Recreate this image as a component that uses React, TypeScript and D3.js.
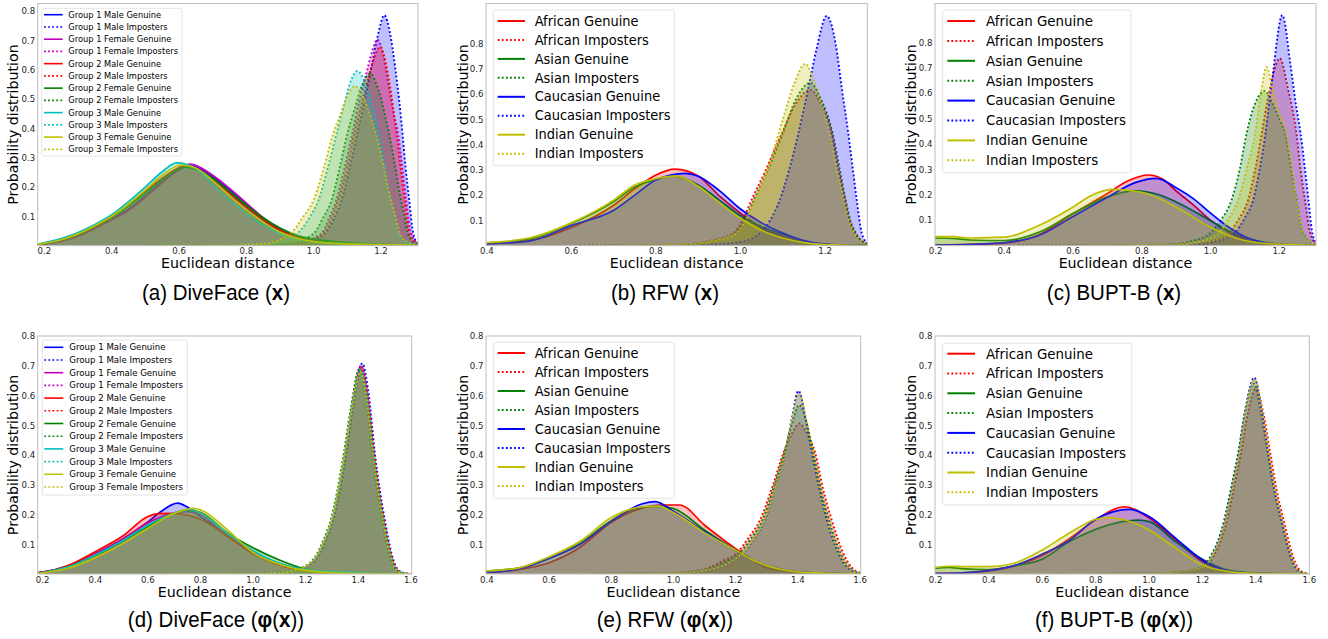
import React from "react"
import * as d3 from "d3"

type Pt = [number, number]

const W = 1328
const H = 639

// matplotlib single-letter colours
const COLOR: Record<string, string> = {
  b: "#0000ff",
  m: "#bf00bf",
  r: "#ff0000",
  g: "#008000",
  c: "#00bfbf",
  y: "#bfbf00",
}

const diveGroups = ["Group 1 Male", "Group 1 Female", "Group 2 Male", "Group 2 Female", "Group 3 Male", "Group 3 Female"]
const diveColors = ["b", "m", "r", "g", "c", "y"]
const raceGroups = ["African", "Asian", "Caucasian", "Indian"]
const raceColors = ["r", "g", "b", "y"]

const yTicks = [0.1, 0.2, 0.3, 0.4, 0.5, 0.6, 0.7, 0.8]
const xTicksA = [0.2, 0.4, 0.6, 0.8, 1.0, 1.2]
const xTicksB = [0.4, 0.6, 0.8, 1.0, 1.2]
const xTicksD = [0.2, 0.4, 0.6, 0.8, 1.0, 1.2, 1.4, 1.6]
const xTicksE = [0.4, 0.6, 0.8, 1.0, 1.2, 1.4, 1.6]

// ---- (a) DiveFace (x) ----
const aGenuine: Pt[][] = [
  [[0.18, 0.003], [0.25, 0.016], [0.3, 0.034], [0.35, 0.06], [0.4, 0.09], [0.45, 0.125], [0.5, 0.17], [0.55, 0.218], [0.6, 0.258], [0.63, 0.272], [0.7, 0.235], [0.75, 0.188], [0.8, 0.14], [0.85, 0.09], [0.9, 0.052], [0.95, 0.028], [1.0, 0.016], [1.1, 0.007], [1.2, 0.003], [1.31, 0.001]],
  [[0.18, 0.003], [0.25, 0.015], [0.3, 0.032], [0.35, 0.058], [0.4, 0.088], [0.45, 0.12], [0.5, 0.165], [0.55, 0.215], [0.6, 0.26], [0.633, 0.278], [0.7, 0.24], [0.75, 0.195], [0.8, 0.145], [0.85, 0.095], [0.9, 0.055], [0.95, 0.03], [1.0, 0.018], [1.1, 0.008], [1.2, 0.003], [1.31, 0.001]],
  [[0.18, 0.004], [0.25, 0.019], [0.3, 0.038], [0.35, 0.065], [0.4, 0.095], [0.45, 0.138], [0.5, 0.185], [0.55, 0.23], [0.62, 0.272], [0.7, 0.228], [0.75, 0.18], [0.8, 0.132], [0.85, 0.088], [0.9, 0.052], [0.95, 0.03], [1.0, 0.018], [1.1, 0.008], [1.2, 0.003], [1.31, 0.001]],
  [[0.18, 0.004], [0.25, 0.019], [0.3, 0.038], [0.35, 0.066], [0.4, 0.097], [0.45, 0.135], [0.5, 0.18], [0.55, 0.225], [0.618, 0.268], [0.7, 0.23], [0.75, 0.185], [0.8, 0.138], [0.85, 0.095], [0.9, 0.06], [0.95, 0.035], [1.0, 0.022], [1.1, 0.01], [1.2, 0.004], [1.31, 0.001]],
  [[0.18, 0.005], [0.25, 0.024], [0.3, 0.045], [0.35, 0.072], [0.4, 0.105], [0.45, 0.15], [0.5, 0.2], [0.55, 0.252], [0.593, 0.282], [0.65, 0.262], [0.7, 0.21], [0.75, 0.155], [0.8, 0.11], [0.85, 0.07], [0.9, 0.04], [0.95, 0.022], [1.0, 0.013], [1.1, 0.006], [1.2, 0.003], [1.31, 0.001]],
  [[0.18, 0.004], [0.25, 0.02], [0.3, 0.04], [0.35, 0.068], [0.4, 0.1], [0.45, 0.142], [0.5, 0.19], [0.55, 0.24], [0.605, 0.275], [0.65, 0.265], [0.7, 0.222], [0.75, 0.17], [0.8, 0.122], [0.85, 0.08], [0.9, 0.046], [0.95, 0.025], [1.0, 0.014], [1.1, 0.006], [1.2, 0.003], [1.31, 0.001]],
]
const aImposters: Pt[][] = [
  [[0.5, 0], [0.85, 0.002], [0.95, 0.01], [1.0, 0.022], [1.034, 0.041], [1.06, 0.09], [1.083, 0.154], [1.108, 0.268], [1.13, 0.382], [1.152, 0.496], [1.172, 0.61], [1.192, 0.724], [1.21, 0.786], [1.227, 0.724], [1.242, 0.61], [1.254, 0.496], [1.264, 0.382], [1.273, 0.268], [1.284, 0.154], [1.296, 0.041], [1.31, 0.006]],
  [[0.5, 0], [0.8, 0.001], [0.94, 0.006], [1.022, 0.041], [1.048, 0.1], [1.067, 0.154], [1.093, 0.27], [1.115, 0.382], [1.135, 0.49], [1.155, 0.58], [1.173, 0.66], [1.189, 0.703], [1.207, 0.65], [1.225, 0.53], [1.24, 0.44], [1.251, 0.38], [1.263, 0.27], [1.275, 0.154], [1.29, 0.041], [1.31, 0.008]],
  [[0.5, 0], [0.8, 0.001], [0.95, 0.006], [1.029, 0.041], [1.055, 0.1], [1.073, 0.154], [1.1, 0.27], [1.121, 0.382], [1.14, 0.47], [1.16, 0.56], [1.18, 0.64], [1.197, 0.678], [1.215, 0.62], [1.23, 0.52], [1.246, 0.382], [1.258, 0.27], [1.27, 0.154], [1.285, 0.041], [1.31, 0.005]],
  [[0.5, 0], [0.75, 0.001], [0.92, 0.006], [1.0, 0.041], [1.03, 0.1], [1.053, 0.154], [1.078, 0.27], [1.1, 0.382], [1.12, 0.46], [1.145, 0.55], [1.167, 0.587], [1.19, 0.54], [1.21, 0.455], [1.226, 0.37], [1.24, 0.285], [1.252, 0.2], [1.267, 0.115], [1.283, 0.031], [1.31, 0.003]],
  [[0.5, 0], [0.7, 0.001], [0.87, 0.006], [0.95, 0.041], [0.99, 0.1], [1.014, 0.154], [1.043, 0.27], [1.068, 0.382], [1.09, 0.48], [1.11, 0.56], [1.13, 0.596], [1.155, 0.548], [1.176, 0.462], [1.194, 0.375], [1.208, 0.29], [1.221, 0.203], [1.237, 0.117], [1.255, 0.031], [1.3, 0.002]],
  [[0.5, 0], [0.7, 0.001], [0.85, 0.006], [0.93, 0.041], [0.97, 0.1], [0.999, 0.154], [1.03, 0.264], [1.058, 0.382], [1.08, 0.45], [1.1, 0.51], [1.123, 0.544], [1.15, 0.5], [1.174, 0.422], [1.193, 0.343], [1.209, 0.264], [1.223, 0.185], [1.241, 0.107], [1.261, 0.028], [1.3, 0.002]],
]

// ---- (b) RFW (x) ----
const bGenuine: Pt[][] = [
  [[0.4, 0.008], [0.5, 0.02], [0.6, 0.072], [0.7, 0.16], [0.75, 0.225], [0.8, 0.28], [0.845, 0.303], [0.9, 0.276], [0.95, 0.197], [1.0, 0.128], [1.05, 0.07], [1.1, 0.035], [1.15, 0.013], [1.2, 0.004], [1.3, 0]],
  [[0.4, 0.01], [0.5, 0.026], [0.6, 0.088], [0.7, 0.175], [0.75, 0.232], [0.8, 0.262], [0.841, 0.276], [0.9, 0.24], [0.95, 0.18], [1.0, 0.118], [1.05, 0.075], [1.1, 0.045], [1.15, 0.018], [1.2, 0.005], [1.3, 0]],
  [[0.4, 0.007], [0.5, 0.018], [0.6, 0.08], [0.7, 0.14], [0.75, 0.2], [0.8, 0.26], [0.869, 0.286], [0.9, 0.275], [0.95, 0.218], [1.0, 0.145], [1.05, 0.09], [1.1, 0.05], [1.15, 0.02], [1.2, 0.006], [1.3, 0]],
  [[0.4, 0.012], [0.5, 0.03], [0.6, 0.09], [0.7, 0.18], [0.75, 0.24], [0.8, 0.265], [0.848, 0.276], [0.9, 0.235], [0.95, 0.17], [1.0, 0.108], [1.05, 0.06], [1.1, 0.03], [1.15, 0.012], [1.2, 0.004], [1.3, 0]],
]
const bImposters: Pt[][] = [
  [[0.62, 0], [0.85, 0.004], [0.93, 0.02], [0.983, 0.049], [1.005, 0.1], [1.026, 0.181], [1.06, 0.3], [1.098, 0.445], [1.13, 0.56], [1.166, 0.617], [1.19, 0.56], [1.216, 0.445], [1.232, 0.3], [1.247, 0.181], [1.258, 0.1], [1.271, 0.049], [1.3, 0.006]],
  [[0.62, 0], [0.86, 0.004], [0.94, 0.02], [0.988, 0.049], [1.01, 0.1], [1.032, 0.181], [1.065, 0.3], [1.1, 0.445], [1.13, 0.575], [1.165, 0.645], [1.19, 0.58], [1.218, 0.445], [1.235, 0.3], [1.249, 0.181], [1.26, 0.1], [1.273, 0.049], [1.3, 0.006]],
  [[0.62, 0], [0.9, 0.003], [1.0, 0.015], [1.046, 0.049], [1.07, 0.1], [1.093, 0.181], [1.115, 0.3], [1.137, 0.445], [1.16, 0.62], [1.18, 0.78], [1.204, 0.91], [1.225, 0.8], [1.24, 0.62], [1.255, 0.445], [1.266, 0.3], [1.275, 0.181], [1.287, 0.049], [1.3, 0.01]],
  [[0.62, 0], [0.86, 0.004], [0.94, 0.02], [0.99, 0.049], [1.012, 0.1], [1.035, 0.181], [1.068, 0.32], [1.1, 0.5], [1.127, 0.64], [1.153, 0.72], [1.178, 0.63], [1.21, 0.445], [1.228, 0.3], [1.245, 0.181], [1.257, 0.1], [1.27, 0.049], [1.3, 0.006]],
]

// ---- (c) BUPT-B (x) ----
const cGenuine: Pt[][] = [
  [[0.198, 0.003], [0.3, 0.005], [0.4, 0.01], [0.5, 0.042], [0.6, 0.126], [0.7, 0.205], [0.76, 0.255], [0.819, 0.278], [0.86, 0.262], [0.9, 0.215], [0.95, 0.16], [1.0, 0.1], [1.05, 0.055], [1.1, 0.025], [1.15, 0.01], [1.2, 0.004], [1.307, 0]],
  [[0.198, 0.03], [0.25, 0.028], [0.3, 0.022], [0.4, 0.02], [0.5, 0.052], [0.6, 0.126], [0.7, 0.192], [0.78, 0.216], [0.85, 0.2], [0.9, 0.172], [1.0, 0.098], [1.05, 0.06], [1.1, 0.033], [1.15, 0.015], [1.2, 0.006], [1.307, 0.001]],
  [[0.198, 0.002], [0.3, 0.005], [0.4, 0.012], [0.5, 0.04], [0.6, 0.115], [0.7, 0.19], [0.78, 0.248], [0.843, 0.265], [0.9, 0.228], [0.95, 0.185], [1.0, 0.128], [1.05, 0.075], [1.1, 0.035], [1.15, 0.013], [1.2, 0.005], [1.307, 0]],
  [[0.198, 0.035], [0.25, 0.035], [0.3, 0.03], [0.4, 0.033], [0.5, 0.079], [0.6, 0.152], [0.65, 0.195], [0.712, 0.221], [0.8, 0.21], [0.9, 0.152], [1.0, 0.072], [1.05, 0.042], [1.1, 0.02], [1.2, 0.005], [1.307, 0.001]],
]
const cImposters: Pt[][] = [
  [[0.44, 0], [0.93, 0.004], [1.01, 0.02], [1.051, 0.048], [1.08, 0.1], [1.109, 0.179], [1.13, 0.3], [1.149, 0.442], [1.17, 0.6], [1.202, 0.737], [1.225, 0.62], [1.25, 0.442], [1.262, 0.3], [1.275, 0.179], [1.29, 0.05], [1.307, 0.008]],
  [[0.44, 0], [0.87, 0.004], [0.95, 0.02], [0.998, 0.048], [1.03, 0.1], [1.061, 0.179], [1.085, 0.3], [1.105, 0.442], [1.13, 0.56], [1.158, 0.609], [1.18, 0.56], [1.2, 0.5], [1.217, 0.442], [1.235, 0.3], [1.251, 0.179], [1.265, 0.07], [1.3, 0.005]],
  [[0.44, 0], [0.95, 0.004], [1.03, 0.02], [1.07, 0.048], [1.1, 0.11], [1.124, 0.179], [1.143, 0.3], [1.16, 0.442], [1.18, 0.66], [1.209, 0.907], [1.232, 0.72], [1.248, 0.56], [1.262, 0.442], [1.275, 0.3], [1.285, 0.179], [1.295, 0.06], [1.307, 0.01]],
  [[0.44, 0], [0.9, 0.004], [0.98, 0.02], [1.022, 0.048], [1.05, 0.1], [1.08, 0.179], [1.105, 0.3], [1.13, 0.442], [1.145, 0.58], [1.163, 0.703], [1.18, 0.62], [1.2, 0.52], [1.221, 0.442], [1.238, 0.3], [1.25, 0.179], [1.268, 0.06], [1.3, 0.005]],
]

// ---- (d) DiveFace (phi(x)) ----
const dGenuine: Pt[][] = [
  [[0.181, 0.004], [0.2, 0.006], [0.3, 0.028], [0.4, 0.068], [0.5, 0.115], [0.6, 0.175], [0.65, 0.21], [0.713, 0.238], [0.75, 0.225], [0.8, 0.193], [0.9, 0.135], [1.0, 0.072], [1.1, 0.035], [1.2, 0.012], [1.3, 0.004], [1.4, 0.001], [1.6, 0]],
  [[0.181, 0.004], [0.2, 0.006], [0.3, 0.027], [0.4, 0.068], [0.5, 0.115], [0.6, 0.172], [0.7, 0.205], [0.75, 0.21], [0.8, 0.2], [0.9, 0.13], [1.0, 0.07], [1.1, 0.033], [1.2, 0.012], [1.3, 0.004], [1.4, 0.001], [1.6, 0]],
  [[0.181, 0.004], [0.2, 0.006], [0.3, 0.03], [0.4, 0.075], [0.5, 0.125], [0.6, 0.193], [0.64, 0.203], [0.7, 0.204], [0.75, 0.198], [0.8, 0.184], [0.9, 0.128], [1.0, 0.068], [1.1, 0.03], [1.2, 0.01], [1.3, 0.003], [1.4, 0.001], [1.6, 0]],
  [[0.181, 0.003], [0.2, 0.005], [0.3, 0.025], [0.4, 0.062], [0.5, 0.108], [0.6, 0.16], [0.7, 0.205], [0.75, 0.215], [0.8, 0.207], [0.9, 0.14], [1.0, 0.088], [1.1, 0.047], [1.2, 0.016], [1.3, 0.005], [1.4, 0.001], [1.6, 0]],
  [[0.181, 0.003], [0.2, 0.005], [0.3, 0.025], [0.4, 0.064], [0.5, 0.11], [0.6, 0.165], [0.7, 0.205], [0.76, 0.217], [0.8, 0.205], [0.9, 0.138], [1.0, 0.078], [1.1, 0.036], [1.2, 0.015], [1.3, 0.008], [1.4, 0.005], [1.5, 0.001], [1.6, 0]],
  [[0.181, 0.002], [0.2, 0.004], [0.3, 0.02], [0.4, 0.055], [0.5, 0.1], [0.6, 0.154], [0.7, 0.204], [0.772, 0.221], [0.8, 0.216], [0.9, 0.15], [1.0, 0.072], [1.1, 0.033], [1.2, 0.012], [1.3, 0.004], [1.4, 0.001], [1.6, 0]],
]
const dImposters: Pt[][] = [
  [[0.66, 0], [1.0, 0.001], [1.1, 0.004], [1.203, 0.025], [1.254, 0.07], [1.28, 0.12], [1.305, 0.181], [1.33, 0.28], [1.355, 0.406], [1.38, 0.56], [1.415, 0.708], [1.44, 0.6], [1.463, 0.406], [1.482, 0.28], [1.501, 0.181], [1.526, 0.07], [1.55, 0.015], [1.58, 0.002], [1.6, 0]],
  [[0.66, 0], [1.0, 0.001], [1.1, 0.004], [1.198, 0.025], [1.249, 0.07], [1.275, 0.12], [1.3, 0.181], [1.325, 0.28], [1.35, 0.406], [1.375, 0.56], [1.41, 0.7], [1.435, 0.6], [1.458, 0.406], [1.477, 0.28], [1.496, 0.181], [1.521, 0.07], [1.545, 0.015], [1.575, 0.002], [1.6, 0]],
  [[0.66, 0], [1.0, 0.001], [1.1, 0.004], [1.2, 0.025], [1.251, 0.07], [1.277, 0.12], [1.302, 0.181], [1.327, 0.28], [1.352, 0.406], [1.377, 0.55], [1.412, 0.695], [1.437, 0.59], [1.46, 0.406], [1.479, 0.28], [1.498, 0.181], [1.523, 0.07], [1.547, 0.015], [1.577, 0.002], [1.6, 0]],
  [[0.66, 0], [1.0, 0.001], [1.1, 0.005], [1.193, 0.025], [1.244, 0.07], [1.27, 0.12], [1.295, 0.181], [1.32, 0.28], [1.345, 0.406], [1.37, 0.55], [1.405, 0.69], [1.43, 0.59], [1.453, 0.406], [1.472, 0.28], [1.491, 0.181], [1.516, 0.07], [1.54, 0.015], [1.57, 0.002], [1.6, 0]],
  [[0.66, 0], [1.0, 0.001], [1.1, 0.004], [1.198, 0.025], [1.249, 0.07], [1.275, 0.12], [1.3, 0.181], [1.325, 0.28], [1.35, 0.406], [1.375, 0.55], [1.41, 0.685], [1.435, 0.585], [1.458, 0.406], [1.477, 0.28], [1.496, 0.181], [1.521, 0.07], [1.545, 0.015], [1.575, 0.002], [1.6, 0]],
  [[0.66, 0], [1.0, 0.001], [1.1, 0.004], [1.196, 0.025], [1.247, 0.07], [1.273, 0.12], [1.298, 0.181], [1.323, 0.28], [1.348, 0.406], [1.373, 0.545], [1.408, 0.68], [1.433, 0.58], [1.456, 0.406], [1.475, 0.28], [1.494, 0.181], [1.519, 0.07], [1.543, 0.015], [1.573, 0.002], [1.6, 0]],
]

// ---- (e) RFW (phi(x)) ----
const eGenuine: Pt[][] = [
  [[0.397, 0.006], [0.5, 0.015], [0.6, 0.038], [0.7, 0.09], [0.8, 0.174], [0.9, 0.222], [0.96, 0.232], [1.02, 0.232], [1.1, 0.164], [1.2, 0.085], [1.25, 0.05], [1.3, 0.02], [1.4, 0.005], [1.5, 0.001], [1.602, 0]],
  [[0.397, 0.01], [0.5, 0.02], [0.6, 0.052], [0.7, 0.104], [0.8, 0.18], [0.9, 0.225], [0.95, 0.227], [1.0, 0.22], [1.1, 0.148], [1.2, 0.08], [1.25, 0.05], [1.3, 0.028], [1.4, 0.007], [1.5, 0.002], [1.602, 0]],
  [[0.397, 0.005], [0.5, 0.016], [0.6, 0.052], [0.7, 0.1], [0.8, 0.177], [0.9, 0.236], [0.941, 0.243], [1.0, 0.21], [1.1, 0.142], [1.2, 0.08], [1.25, 0.05], [1.3, 0.028], [1.4, 0.007], [1.5, 0.002], [1.602, 0]],
  [[0.397, 0.01], [0.5, 0.02], [0.6, 0.058], [0.7, 0.11], [0.8, 0.19], [0.9, 0.226], [0.95, 0.228], [1.0, 0.207], [1.1, 0.139], [1.2, 0.08], [1.25, 0.05], [1.3, 0.028], [1.4, 0.007], [1.5, 0.002], [1.602, 0]],
]
const eImposters: Pt[][] = [
  [[0.68, 0], [1.0, 0.004], [1.1, 0.016], [1.16, 0.045], [1.203, 0.07], [1.24, 0.12], [1.278, 0.181], [1.32, 0.3], [1.353, 0.406], [1.38, 0.47], [1.405, 0.506], [1.43, 0.47], [1.456, 0.406], [1.48, 0.29], [1.509, 0.181], [1.546, 0.07], [1.575, 0.02], [1.6, 0.004]],
  [[0.68, 0], [1.0, 0.003], [1.1, 0.014], [1.17, 0.042], [1.212, 0.07], [1.25, 0.12], [1.286, 0.181], [1.325, 0.3], [1.356, 0.406], [1.38, 0.5], [1.405, 0.568], [1.43, 0.5], [1.45, 0.406], [1.475, 0.28], [1.5, 0.181], [1.537, 0.07], [1.567, 0.02], [1.6, 0.003]],
  [[0.68, 0], [1.0, 0.003], [1.1, 0.012], [1.18, 0.04], [1.225, 0.07], [1.26, 0.12], [1.294, 0.181], [1.33, 0.3], [1.359, 0.406], [1.38, 0.52], [1.402, 0.616], [1.425, 0.52], [1.445, 0.406], [1.47, 0.28], [1.493, 0.181], [1.53, 0.07], [1.56, 0.02], [1.6, 0.002]],
  [[0.68, 0], [1.0, 0.003], [1.1, 0.012], [1.18, 0.04], [1.222, 0.07], [1.258, 0.12], [1.292, 0.181], [1.33, 0.3], [1.358, 0.406], [1.38, 0.515], [1.405, 0.605], [1.428, 0.515], [1.448, 0.406], [1.472, 0.28], [1.495, 0.181], [1.532, 0.07], [1.562, 0.02], [1.6, 0.002]],
]

// ---- (f) BUPT-B (phi(x)) ----
const fGenuine: Pt[][] = [
  [[0.198, 0.002], [0.3, 0.004], [0.4, 0.01], [0.5, 0.028], [0.6, 0.062], [0.7, 0.118], [0.8, 0.182], [0.909, 0.226], [1.0, 0.188], [1.1, 0.114], [1.2, 0.042], [1.3, 0.008], [1.4, 0.002], [1.6, 0]],
  [[0.198, 0.019], [0.25, 0.022], [0.3, 0.018], [0.4, 0.015], [0.5, 0.028], [0.6, 0.05], [0.7, 0.108], [0.8, 0.15], [0.9, 0.176], [0.959, 0.181], [1.0, 0.176], [1.1, 0.108], [1.2, 0.05], [1.3, 0.012], [1.4, 0.003], [1.6, 0]],
  [[0.198, 0.002], [0.3, 0.004], [0.4, 0.012], [0.5, 0.03], [0.6, 0.067], [0.7, 0.112], [0.8, 0.184], [0.928, 0.217], [1.0, 0.193], [1.1, 0.12], [1.2, 0.047], [1.3, 0.01], [1.4, 0.002], [1.6, 0]],
  [[0.198, 0.022], [0.25, 0.026], [0.3, 0.025], [0.4, 0.025], [0.5, 0.038], [0.6, 0.081], [0.7, 0.137], [0.8, 0.184], [0.847, 0.19], [0.9, 0.184], [1.0, 0.148], [1.1, 0.087], [1.2, 0.03], [1.3, 0.008], [1.4, 0.002], [1.6, 0]],
]
const fImposters: Pt[][] = [
  [[0.4, 0], [1.0, 0.001], [1.13, 0.008], [1.208, 0.022], [1.248, 0.07], [1.268, 0.11], [1.292, 0.181], [1.318, 0.29], [1.344, 0.406], [1.37, 0.54], [1.4, 0.624], [1.428, 0.54], [1.454, 0.406], [1.478, 0.28], [1.504, 0.181], [1.535, 0.07], [1.558, 0.02], [1.585, 0.003], [1.6, 0]],
  [[0.4, 0], [1.0, 0.001], [1.115, 0.008], [1.196, 0.022], [1.236, 0.07], [1.257, 0.11], [1.281, 0.181], [1.307, 0.29], [1.333, 0.406], [1.358, 0.54], [1.392, 0.64], [1.418, 0.545], [1.444, 0.406], [1.468, 0.28], [1.494, 0.181], [1.525, 0.07], [1.548, 0.02], [1.578, 0.003], [1.6, 0]],
  [[0.4, 0], [1.0, 0.001], [1.12, 0.008], [1.2, 0.022], [1.24, 0.07], [1.26, 0.11], [1.284, 0.181], [1.31, 0.29], [1.336, 0.406], [1.36, 0.55], [1.394, 0.66], [1.42, 0.56], [1.446, 0.406], [1.47, 0.28], [1.496, 0.181], [1.527, 0.07], [1.55, 0.02], [1.58, 0.003], [1.6, 0]],
  [[0.4, 0], [1.0, 0.001], [1.12, 0.008], [1.2, 0.022], [1.241, 0.07], [1.262, 0.11], [1.286, 0.181], [1.312, 0.29], [1.338, 0.406], [1.362, 0.55], [1.396, 0.655], [1.422, 0.555], [1.448, 0.406], [1.472, 0.28], [1.498, 0.181], [1.529, 0.07], [1.552, 0.02], [1.582, 0.003], [1.6, 0]],
]

type LegendBox = { x0: number; x1: number; y0: number; y1: number; row0: number; step: number; l0: number; l1: number; tx: number; font: number }

type PanelProps = {
  id: string
  left: number
  right: number
  top: number
  bottom: number
  xDomain: [number, number]
  yMax: number
  xTicks: number[]
  genuine: Pt[][]
  imposters: Pt[][]
  groups: string[]
  colors: string[]
  legend: LegendBox
  ylabelX: number
  xlabelY: number
  caption: React.ReactNode
  captionX: number
  captionY: number
}

const FONT = "DejaVu Sans, sans-serif"
const DOTS = "1.8 2.3"
const fmt = d3.format(".1f")

function Panel(p: PanelProps) {
  const x = d3.scaleLinear().domain(p.xDomain).range([p.left, p.right])
  const y = d3.scaleLinear().domain([0, p.yMax]).range([p.bottom, p.top])
  const area = d3
    .area<Pt>()
    .x((d) => x(d[0]))
    .y0(y(0))
    .y1((d) => y(d[1]))
    .curve(d3.curveMonotoneX)
  const line = d3
    .line<Pt>()
    .x((d) => x(d[0]))
    .y((d) => y(d[1]))
    .curve(d3.curveMonotoneX)

  const L = p.legend
  const entries: { label: string; color: string; dotted: boolean }[] = []
  p.groups.forEach((g, i) => {
    entries.push({ label: g + " Genuine", color: COLOR[p.colors[i]], dotted: false })
    entries.push({ label: g + " Imposters", color: COLOR[p.colors[i]], dotted: true })
  })

  return (
    <g>
      <defs>
        <clipPath id={"clip-" + p.id}>
          <rect x={p.left} y={p.top} width={p.right - p.left} height={p.bottom - p.top} />
        </clipPath>
      </defs>
      <g clipPath={`url(#clip-${p.id})`}>
        {p.groups.map((g, i) => {
          const c = COLOR[p.colors[i]]
          return (
            <g key={g}>
              <path d={area(p.genuine[i]) ?? ""} fill={c} fillOpacity={0.25} />
              <path d={line(p.genuine[i]) ?? ""} fill="none" stroke={c} strokeWidth={1.7} />
              <path d={area(p.imposters[i]) ?? ""} fill={c} fillOpacity={0.25} />
              <path d={line(p.imposters[i]) ?? ""} fill="none" stroke={c} strokeWidth={1.9} strokeDasharray={DOTS} />
            </g>
          )
        })}
      </g>
      <rect x={p.left} y={p.top} width={p.right - p.left} height={p.bottom - p.top} fill="none" stroke="#bdbdbd" strokeWidth={1} />
      {p.xTicks.map((t) => (
        <text key={"x" + t} transform={`translate(${x(t)},${p.bottom + 8.8}) scale(1,1.1)`} textAnchor="middle" fontFamily={FONT} fontSize={8.6} fill="#262626">
          {fmt(t)}
        </text>
      ))}
      {yTicks.map((t) => (
        <text key={"y" + t} transform={`translate(${p.left - 2.5},${y(t) + 3.3}) scale(1,1.1)`} textAnchor="end" fontFamily={FONT} fontSize={8.6} fill="#262626">
          {fmt(t)}
        </text>
      ))}
      <text x={(p.left + p.right) / 2} y={p.xlabelY} textAnchor="middle" fontFamily={FONT} fontSize={14.2} fill="#000">
        Euclidean distance
      </text>
      <text transform={`translate(${p.ylabelX},${(p.top + p.bottom) / 2}) rotate(-90)`} textAnchor="middle" fontFamily={FONT} fontSize={14.2} fill="#000">
        Probability distribution
      </text>
      <rect x={L.x0} y={L.y0} width={L.x1 - L.x0} height={L.y1 - L.y0} rx={2} fill="#fff" fillOpacity={0.8} stroke="#dddddd" strokeWidth={0.8} />
      {entries.map((e, i) => {
        const cy = L.row0 + i * L.step
        return (
          <g key={e.label}>
            <line x1={L.l0} x2={L.l1} y1={cy} y2={cy} stroke={e.color} strokeWidth={L.font > 10 ? 2 : 1.6} strokeDasharray={e.dotted ? DOTS : undefined} />
            <text transform={`translate(${L.tx},${cy + L.font * 0.36}) scale(1,1.1)`} fontFamily={FONT} fontSize={L.font} fill="#000">
              {e.label}
            </text>
          </g>
        )
      })}
      <text transform={`translate(${p.captionX},${p.captionY}) scale(1,1.1)`} textAnchor="middle" fontFamily="Liberation Sans, Arial, sans-serif" fontSize={20.5} fill="#000">
        {p.caption}
      </text>
    </g>
  )
}

const B = (s: string) => <tspan fontWeight="bold">{s}</tspan>

export default function App() {
  const topY = { top: 3.5, bottom: 245.6, xlabelY: 267.7, captionY: 300 }
  const botY = { top: 336, bottom: 574, xlabelY: 596.7, captionY: 627.3 }
  const smallLegA: LegendBox = { x0: 41.7, x1: 182, y0: 8.3, y1: 156, row0: 14.7, step: 12.24, l0: 44, l1: 62.7, tx: 68.3, font: 8.3 }
  const smallLegD: LegendBox = { x0: 42.3, x1: 187.3, y0: 340, y1: 495, row0: 347.3, step: 12.7, l0: 44.3, l1: 63.3, tx: 69.3, font: 8.6 }

  return (
    <svg width={W} height={H} viewBox={`0 0 ${W} ${H}`} style={{ position: "absolute", left: 0, top: 0, background: "#fff" }}>
      <rect width={W} height={H} fill="#fff" />
      <Panel
        id="a" left={37.7} right={418} {...topY} xDomain={[0.18, 1.31]} yMax={0.826} xTicks={xTicksA}
        genuine={aGenuine} imposters={aImposters} groups={diveGroups} colors={diveColors}
        legend={smallLegA} ylabelX={18} caption={<>(a) DiveFace ({B("x")})</>} captionX={216}
      />
      <Panel
        id="b" left={486} right={867.3} {...topY} xDomain={[0.398, 1.3]} yMax={0.959} xTicks={xTicksB}
        genuine={bGenuine} imposters={bImposters} groups={raceGroups} colors={raceColors}
        legend={{ x0: 493.3, x1: 674.3, y0: 10, y1: 165.7, row0: 21, step: 18.95, l0: 497.7, l1: 525, tx: 534.7, font: 13 }}
        ylabelX={468} caption={<>(b) RFW ({B("x")})</>} captionX={665}
      />
      <Panel
        id="c" left={935} right={1316} {...topY} xDomain={[0.198, 1.307]} yMax={0.953} xTicks={xTicksA}
        genuine={cGenuine} imposters={cImposters} groups={raceGroups} colors={raceColors}
        legend={{ x0: 942.7, x1: 1131, y0: 10, y1: 172.7, row0: 21, step: 19.9, l0: 947.3, l1: 975, tx: 986, font: 13.4 }}
        ylabelX={916} caption={<>(c) BUPT-B ({B("x")})</>} captionX={1114}
      />
      <Panel
        id="d" left={37.7} right={411.7} {...botY} xDomain={[0.181, 1.603]} yMax={0.8} xTicks={xTicksD}
        genuine={dGenuine} imposters={dImposters} groups={diveGroups} colors={diveColors}
        legend={smallLegD} ylabelX={18} caption={<>(d) DiveFace ({B("φ")}({B("x")}))</>} captionX={216}
      />
      <Panel
        id="e" left={486} right={860.7} {...botY} xDomain={[0.397, 1.602]} yMax={0.8} xTicks={xTicksE}
        genuine={eGenuine} imposters={eImposters} groups={raceGroups} colors={raceColors}
        legend={{ x0: 493.3, x1: 674.3, y0: 342.3, y1: 498.3, row0: 353, step: 19, l0: 497.7, l1: 525, tx: 534.7, font: 13 }}
        ylabelX={468} caption={<>(e) RFW ({B("φ")}({B("x")}))</>} captionX={665}
      />
      <Panel
        id="f" left={935} right={1309.3} {...botY} xDomain={[0.198, 1.6]} yMax={0.8} xTicks={xTicksD}
        genuine={fGenuine} imposters={fImposters} groups={raceGroups} colors={raceColors}
        legend={{ x0: 942.7, x1: 1131.7, y0: 343.3, y1: 505, row0: 353.7, step: 19.8, l0: 947.3, l1: 975, tx: 986, font: 13.4 }}
        ylabelX={916} caption={<>(f) BUPT-B ({B("φ")}({B("x")}))</>} captionX={1114}
      />
    </svg>
  )
}
